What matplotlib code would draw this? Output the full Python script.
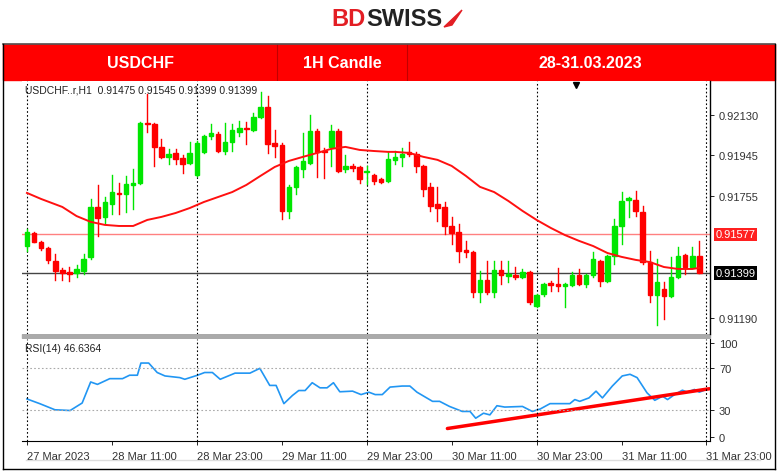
import matplotlib.pyplot as plt
from matplotlib.patches import Rectangle

# hourly candles, 27 Mar 23:00 .. 31 Mar 22:00
opens = [.91523, .91584, .91542, .91514, .91454, .91412, .91403, .91398, .91408, .91473,
         .91704, .91658, .91718, .91769, .91764, .91806, .91815, .92093, .92088, .91982,
         .91936, .91954, .91931, .91908, .91852, .91959, .92033, .92042, .91963, .92005,
         .92051, .92070, .92061, .92121, .92167, .92000, .91991, .91686, .91797, .91880,
         .91908, .92056, .91963, .91982, .92056, .91880, .91894, .91889, .91866, .91852,
         .91834, .91824, .91922, .91936, .91959, .91949, .91894, .91797, .91718, .91704,
         .91616, .91588, .91505, .91496, .91310, .91366, .91310, .91412, .91385, .91389,
         .91380, .91403, .91246, .91301, .91352, .91348, .91338, .91343, .91389, .91348,
         .91389, .91454, .91361, .91477, .91616, .91736, .91736, .91681, .91449, .91297,
         .91324, .91292, .91380, .91482, .91426, .91475]
highs = [.91600, .91590, .91545, .91520, .91486, .91420, .91426, .91435, .91486, .91741,
         .91806, .91750, .91852, .91815, .91848, .91880, .92098, .92227, .92093, .92019,
         .91973, .91973, .91945, .92005, .92010, .92038, .92088, .92051, .92093, .92088,
         .92102, .92098, .92139, .92236, .92218, .92061, .92000, .91806, .91894, .92047,
         .92130, .92065, .91977, .92084, .92065, .91945, .91903, .91894, .91894, .91857,
         .91838, .91959, .91963, .91977, .92005, .91959, .91899, .91815, .91797, .91727,
         .91658, .91625, .91547, .91500, .91408, .91454, .91454, .91454, .91454, .91426,
         .91417, .91408, .91301, .91352, .91361, .91422, .91352, .91403, .91417, .91394,
         .91496, .91459, .91482, .91648, .91773, .91750, .91778, .91709, .91500, .91463,
         .91357, .91473, .91519, .91486, .91519, .91545]
lows = [.91500, .91540, .91505, .91445, .91366, .91366, .91361, .91380, .91394, .91465,
        .91570, .91625, .91672, .91672, .91681, .91695, .91811, .92051, .91894, .91931,
        .91903, .91903, .91861, .91903, .91848, .91954, .92019, .91959, .91949, .91963,
        .92033, .91996, .92056, .92116, .91954, .91936, .91648, .91653, .91764, .91843,
        .91903, .91843, .91838, .91894, .91866, .91866, .91871, .91815, .91811, .91811,
        .91815, .91820, .91903, .91894, .91940, .91866, .91755, .91686, .91639, .91579,
        .91533, .91449, .91473, .91287, .91264, .91301, .91287, .91348, .91357, .91371,
        .91375, .91255, .91241, .91292, .91315, .91315, .91241, .91338, .91343, .91334,
        .91380, .91338, .91357, .91440, .91533, .91658, .91662, .91440, .91264, .91158,
        .91186, .91287, .91375, .91394, .91422, .91399]
closes = [.91588, .91542, .91514, .91459, .91408, .91398, .91394, .91417, .91463, .91704,
          .91653, .91727, .91773, .91764, .91811, .91815, .92093, .92088, .91982, .91936,
          .91949, .91926, .91903, .91954, .92000, .92033, .92047, .91963, .92005, .92061,
          .92070, .92065, .92121, .92167, .91996, .91986, .91686, .91797, .91889, .91917,
          .92056, .91959, .91959, .92056, .91871, .91894, .91885, .91834, .91871, .91824,
          .91820, .91926, .91936, .91949, .91949, .91894, .91787, .91709, .91699, .91616,
          .91584, .91500, .91496, .91310, .91366, .91310, .91412, .91389, .91394, .91380,
          .91403, .91264, .91297, .91348, .91343, .91338, .91348, .91389, .91348, .91389,
          .91463, .91361, .91477, .91616, .91732, .91746, .91686, .91449, .91297, .91357,
          .91292, .91380, .91477, .91426, .91477, .91399]

ma_idx = [0, 2, 5, 7, 9, 11, 13, 15, 17, 19, 21, 23, 25, 27, 29, 31, 33, 35, 37, 39, 41, 43, 45, 47,
          49, 51, 52, 54, 56, 58, 60, 62, 64, 66, 68, 70, 72, 74, 76, 78, 80, 82, 84, 86, 88, 90,
          92, 94, 95]
ma_val = [.91769, .91741, .91704, .91662, .91635, .91621, .91616, .91616, .91644, .91658, .91676,
          .91699, .91727, .91750, .91773, .91806, .91848, .91889, .91917, .91936, .91954, .91973,
          .91982, .91968, .91963, .91959, .91959, .91954, .91936, .91922, .91894, .91848, .91797,
          .91773, .91732, .91686, .91644, .91607, .91574, .91547, .91523, .91491, .91473, .91459,
          .91449, .91426, .91417, .91417, .91422]

rsi_idx = [0, 1.8, 3.95, 6.1, 7.8, 9.0, 9.96, 11.7, 13.5, 14.5, 15.6, 16.1, 17.2, 18.4, 19.5, 21.6,
           22.3, 24.1, 25.1, 26.2, 27.3, 29.4, 31.5, 32.9, 34.3, 35.2, 36.3, 37.5, 38.4, 39.3, 40.3,
           41.4, 42.4, 43.3, 44.2, 46, 47.2, 48.3, 49.2, 50.2, 51.3, 53, 54.1, 55.1, 57.3, 58.3,
           59.7, 61.5, 62.6, 63.4, 64.5, 65.4, 66.4, 67.5, 70, 71.4, 72.5, 73.9, 76.7, 77.4, 78.1,
           79.4, 80.4, 81.3, 82.7, 84.1, 85.2, 86.2, 87.6, 88.7, 89.8, 90.5, 91.5, 92.6, 93.3, 94.3,
           95, 95.7]
rsi_val = [40.4, 35.9, 30.0, 29.3, 36.5, 56.7, 54.4, 59.9, 59.9, 63.2, 63.2, 74.9, 74.9, 65.8, 62.5,
           60.9, 59.3, 63.2, 65.8, 65.8, 59.3, 65.2, 65.2, 69.8, 53.4, 53.4, 35.9, 43.7, 48.5, 48.5,
           56.0, 51.1, 51.1, 56.0, 47.3, 47.9, 44.6, 46.9, 44.6, 44.6, 51.8, 52.8, 52.8, 46.9, 38.1,
           38.1, 33.2, 28.4, 28.4, 21.9, 26.7, 25.1, 33.9, 32.6, 33.2, 28.4, 30.7, 35.9, 35.9, 39.8,
           38.1, 41.4, 47.9, 41.4, 52.8, 62.5, 64.1, 60.9, 46.3, 39.1, 43.0, 39.8, 44.6, 48.8, 46.9,
           49.5, 46.9, 48.8]
trend_idx = [59.4, 96.4]
trend_val = [12.0, 50.2]

price_ticks = [0.92130, 0.91945, 0.91755, 0.91190]
date_labels = ["27 Mar 2023", "28 Mar 11:00", "28 Mar 23:00", "29 Mar 11:00", "29 Mar 23:00",
               "30 Mar 11:00", "30 Mar 23:00", "31 Mar 11:00", "31 Mar 23:00"]

W, H = 780, 477
fig = plt.figure(figsize=(W / 100, H / 100), dpi=100)
plt.rcParams['font.family'] = ['Liberation Sans', 'DejaVu Sans']

def px(x0, y0, x1, y1):
    return [x0 / W, 1 - y1 / H, (x1 - x0) / W, (y1 - y0) / H]

# page frame / header
bg = fig.add_axes([0, 0, 1, 1])
bg.set_xlim(0, W); bg.set_ylim(H, 0); bg.axis('off')
bg.add_patch(Rectangle((3, 45), 772, 36, color='#ff0000'))
for xd in (277, 407):
    bg.plot([xd, xd], [45, 81], color='#c00000', lw=0.8)
bg.plot([3, 775], [45, 45], color='#555555', lw=1.2)
bg.plot([3, 3], [45, 470], color='black', lw=1)
bg.plot([775, 775], [45, 470], color='black', lw=1)
bg.plot([3, 775], [470, 470], color='black', lw=1)
bg.plot([26, 760], [461, 461], color='#dddddd', lw=1)
bg.text(140, 63, "USDCHF", color='white', fontsize=11.5, fontweight='bold', ha='center', va='center')
bg.text(342, 63, "1H Candle", color='white', fontsize=11.5, fontweight='bold', ha='center', va='center')
bg.text(590, 63, "28-31.03.2023", color='white', fontsize=11.5, fontweight='bold', ha='center', va='center')
bg.text(366, 20, "BD", color='#e31e24', fontsize=17, fontweight='bold', ha='right', va='center')
bg.text(366, 20, "SWISS", color='#222222', fontsize=17, fontweight='bold', ha='left', va='center')
bg.add_patch(plt.Polygon([[444, 28], [462, 11], [452, 26]], color='#e31e24'))

# price panel
ax = fig.add_axes(px(22, 82, 710, 335))
for i in range(len(opens)):
    up = closes[i] >= opens[i]
    c = '#00e600' if up else '#ff0000'
    ax.plot([i, i], [lows[i], highs[i]], color=c, lw=1, zorder=3)
    lo, hi = min(opens[i], closes[i]), max(opens[i], closes[i])
    ax.add_patch(Rectangle((i - 0.32, lo), 0.64, max(hi - lo, 0.000012), color=c, zorder=4))
ax.plot(ma_idx, ma_val, color='#ff1010', lw=1.4, zorder=5)
ax.axhline(0.91577, color='#ff8080', lw=1, zorder=2)
ax.axhline(0.91399, color='#444444', lw=1, zorder=2)
for g in (0, 24, 48, 72, 96):
    ax.axvline(g, color='black', ls=(0, (1.5, 2)), lw=0.8, zorder=1)
ax.set_xlim(-0.7, 96.5)
ax.set_ylim(0.91116, 0.92287)
ax.yaxis.tick_right()
ax.set_yticks(price_ticks)
ax.set_yticklabels([f"{v:.5f}" for v in price_ticks], fontsize=8, color='#333333')
ax.tick_params(axis='y', length=3, width=0.6)
ax.set_xticks([])
for s in ('top', 'left', 'bottom'):
    ax.spines[s].set_visible(False)
ax.spines['right'].set_linewidth(1)
ax.text(0.005, 0.985, "USDCHF..r,H1  0.91475 0.91545 0.91399 0.91399", transform=ax.transAxes,
        fontsize=7.5, va='top', ha='left', color='#222222')
ax.plot([77.5], [0.92270], marker='v', color='black', ms=4, clip_on=False)
ax.text(1.008, 0.91577, "0.91577", transform=ax.get_yaxis_transform(), fontsize=8, color='white',
        va='center', ha='left', bbox=dict(boxstyle='square,pad=0.15', fc='#ff2020', ec='none'))
ax.text(1.008, 0.91399, "0.91399", transform=ax.get_yaxis_transform(), fontsize=8, color='white',
        va='center', ha='left', bbox=dict(boxstyle='square,pad=0.15', fc='black', ec='none'))

bg.add_patch(Rectangle((22, 335), 688, 4, color='#aaaaaa'))

# RSI panel
ax2 = fig.add_axes(px(22, 340, 710, 442))
ax2.plot(rsi_idx, rsi_val, color='#2196f3', lw=1.2)
ax2.plot(trend_idx, trend_val, color='#ff0000', lw=2.5, solid_capstyle='round')
for lv in (70, 30):
    ax2.axhline(lv, color='#aaaaaa', ls=(0, (1.5, 2)), lw=0.8)
for g in (0, 24, 48, 72, 96):
    ax2.axvline(g, color='black', ls=(0, (1.5, 2)), lw=0.8)
ax2.set_xlim(-0.7, 96.5)
ax2.set_ylim(0, 98)
ax2.yaxis.tick_right()
ax2.set_yticks([4, 30, 70, 94])
ax2.set_yticklabels(["0", "30", "70", "100"], fontsize=8, color='#333333')
ax2.tick_params(axis='y', length=3, width=0.6)
ax2.set_xticks(range(0, 97, 12))
ax2.set_xticklabels(date_labels, fontsize=8, ha='left', color='#333333')
ax2.tick_params(axis='x', length=3, width=0.6, pad=4)
for s in ('top', 'left'):
    ax2.spines[s].set_visible(False)
ax2.text(0.005, 0.96, "RSI(14) 46.6364", transform=ax2.transAxes, fontsize=7.5, va='top', color='#222222')

fig.savefig("out.png", dpi=100)
